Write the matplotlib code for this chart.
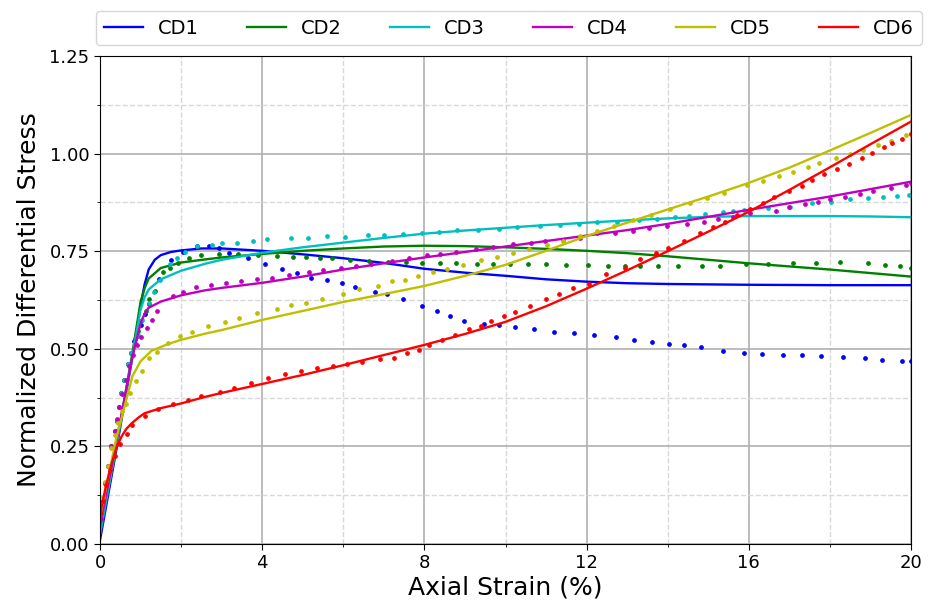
import matplotlib
matplotlib.use("Agg")
import matplotlib.pyplot as plt
from matplotlib.ticker import MultipleLocator

labels = ["CD1", "CD2", "CD3", "CD4", "CD5", "CD6"]
colors = ["b", "g", "c", "m", "y", "r"]

# ---- model curves (solid lines) ----
cd1_fx = [0, 0.4, 0.8, 1.0, 1.1, 1.2, 1.35, 1.5, 1.75, 2.0, 2.5, 3.0, 4, 5, 6, 7, 8, 9, 10, 11, 12, 13, 14, 16, 18, 20]
cd1_fy = [0.01, 0.24, 0.48, 0.61, 0.665, 0.703, 0.728, 0.740, 0.748, 0.752, 0.757, 0.757, 0.751, 0.742, 0.732, 0.72,
          0.705, 0.695, 0.687, 0.678, 0.672, 0.668, 0.666, 0.664, 0.663, 0.663]
cd2_fx = [0, 0.4, 0.8, 1.0, 1.1, 1.2, 1.5, 2.0, 2.6, 3, 4, 5, 6, 7, 8, 9, 10, 11, 12, 13, 14, 15, 16, 17, 18, 19, 20]
cd2_fy = [0.03, 0.25, 0.49, 0.62, 0.655, 0.68, 0.707, 0.721, 0.729, 0.734, 0.743, 0.751, 0.757, 0.762, 0.764, 0.763,
          0.760, 0.756, 0.751, 0.745, 0.737, 0.728, 0.719, 0.711, 0.703, 0.694, 0.685]
cd3_fx = [0, 0.4, 0.8, 1.0, 1.1, 1.2, 1.5, 2.0, 2.6, 3, 4, 5, 6, 7, 8, 9, 10, 11, 12, 13, 14, 15, 16, 17, 18, 19, 20]
cd3_fy = [0.025, 0.25, 0.48, 0.60, 0.632, 0.652, 0.678, 0.700, 0.718, 0.728, 0.746, 0.760, 0.772, 0.784, 0.795, 0.803,
          0.810, 0.817, 0.823, 0.829, 0.834, 0.838, 0.840, 0.840, 0.840, 0.839, 0.837]
cd4_fx = [0, 0.4, 0.8, 1.0, 1.1, 1.2, 1.5, 2.0, 2.6, 3, 4, 5, 6, 7, 8, 9, 10, 11, 12, 13, 14, 15, 16, 17, 18, 19, 20]
cd4_fy = [0.045, 0.26, 0.48, 0.565, 0.590, 0.605, 0.621, 0.637, 0.650, 0.656, 0.669, 0.685, 0.703, 0.719, 0.734, 0.748,
          0.762, 0.776, 0.790, 0.804, 0.820, 0.838, 0.856, 0.873, 0.890, 0.909, 0.928]
cd5_fx = [0, 0.4, 0.8, 1.0, 1.27, 1.7, 2.0, 2.6, 3, 4, 5, 6, 7, 8, 9, 10, 11, 12, 13, 14, 15, 16, 17, 18, 19, 20]
cd5_fy = [0.07, 0.27, 0.43, 0.468, 0.495, 0.513, 0.523, 0.539, 0.548, 0.574, 0.597, 0.620, 0.640, 0.661, 0.687, 0.715,
          0.751, 0.789, 0.823, 0.857, 0.890, 0.925, 0.964, 1.008, 1.053, 1.099]
cd6_fx = [0, 0.15, 0.29, 0.4, 0.53, 0.65, 0.78, 0.95, 1.1, 1.5, 2.0, 2.6, 3, 4, 5, 6, 7, 8, 9, 10, 11, 12, 13, 14, 15,
          16, 17, 18, 19, 20]
cd6_fy = [0.075, 0.15, 0.207, 0.245, 0.275, 0.295, 0.309, 0.324, 0.335, 0.348, 0.36, 0.377, 0.387, 0.410, 0.433, 0.458,
          0.484, 0.510, 0.538, 0.569, 0.609, 0.654, 0.701, 0.750, 0.800, 0.851, 0.907, 0.965, 1.024, 1.082]

# ---- experimental data (dots) ----
cd1_dx = [0.03, 0.08, 0.13, 0.2, 0.28, 0.36, 0.42, 0.47, 0.53, 0.6, 0.68, 0.76, 0.84, 0.92, 1.0, 1.1, 1.22, 1.45,
          1.76, 2.05, 2.38, 2.69, 2.93, 3.19, 3.65, 4.08, 4.48, 4.85, 5.2, 5.59, 5.98, 6.28, 6.79, 7.07, 7.46, 7.95,
          8.31, 8.64, 8.97, 9.47, 9.85, 10.24, 10.71, 11.2, 11.7, 12.19, 12.72, 13.18, 13.61, 14.04, 14.4, 14.83,
          15.37, 15.88, 16.33, 16.84, 17.3, 17.78, 18.32, 18.87, 19.29, 19.77, 19.99]
cd1_dy = [0.07, 0.11, 0.155, 0.2, 0.25, 0.29, 0.316, 0.352, 0.386, 0.42, 0.46, 0.49, 0.52, 0.533, 0.56, 0.59, 0.616,
          0.68, 0.727, 0.748, 0.764, 0.764, 0.757, 0.746, 0.732, 0.717, 0.704, 0.695, 0.681, 0.677, 0.668, 0.659,
          0.646, 0.640, 0.627, 0.610, 0.597, 0.584, 0.571, 0.564, 0.560, 0.556, 0.551, 0.543, 0.540, 0.536, 0.530,
          0.522, 0.517, 0.513, 0.509, 0.504, 0.495, 0.489, 0.487, 0.483, 0.483, 0.482, 0.479, 0.476, 0.472, 0.468,
          0.468]
cd2_dx = [0.03, 0.08, 0.13, 0.2, 0.28, 0.36, 0.42, 0.47, 0.53, 0.6, 0.68, 0.76, 0.86, 0.94, 1.02, 1.13, 1.22, 1.36,
          1.55, 1.73, 1.93, 2.19, 2.48, 2.93, 3.41, 3.9, 4.37, 4.77, 5.07, 5.43, 5.73, 6.17, 6.64, 7.1, 7.54, 7.95,
          8.38, 8.78, 9.29, 9.7, 10.1, 10.55, 11.0, 11.48, 12.03, 12.54, 12.95, 13.32, 13.77, 14.26, 14.85, 15.3,
          15.92, 16.48, 17.08, 17.66, 18.25, 18.93, 19.36, 19.73, 20.0]
cd2_dy = [0.07, 0.11, 0.155, 0.2, 0.25, 0.29, 0.316, 0.352, 0.386, 0.42, 0.46, 0.49, 0.525, 0.546, 0.570, 0.598,
          0.628, 0.649, 0.697, 0.706, 0.721, 0.733, 0.740, 0.744, 0.742, 0.740, 0.738, 0.735, 0.734, 0.733, 0.732,
          0.727, 0.725, 0.723, 0.722, 0.721, 0.720, 0.721, 0.717, 0.717, 0.717, 0.718, 0.716, 0.715, 0.715, 0.713,
          0.712, 0.713, 0.712, 0.712, 0.713, 0.713, 0.716, 0.716, 0.719, 0.721, 0.722, 0.719, 0.715, 0.713, 0.708]
cd3_dx = [0.03, 0.08, 0.13, 0.2, 0.28, 0.36, 0.42, 0.47, 0.53, 0.6, 0.68, 0.76, 0.86, 0.94, 1.04, 1.2, 1.33, 1.47,
          1.72, 1.89, 2.1, 2.38, 2.75, 3.02, 3.37, 3.78, 4.11, 4.71, 5.14, 5.61, 6.03, 6.6, 7.01, 7.46, 7.95, 8.36,
          8.81, 9.33, 9.84, 10.29, 10.85, 11.35, 11.82, 12.25, 12.74, 13.28, 13.73, 14.18, 14.53, 14.92, 15.36,
          15.62, 15.88, 16.48, 17.02, 17.55, 18.02, 18.5, 18.95, 19.3, 19.65, 19.95]
cd3_dy = [0.07, 0.11, 0.155, 0.2, 0.25, 0.29, 0.316, 0.352, 0.386, 0.42, 0.46, 0.49, 0.515, 0.535, 0.574, 0.618,
          0.646, 0.676, 0.716, 0.732, 0.749, 0.764, 0.766, 0.772, 0.772, 0.777, 0.780, 0.783, 0.783, 0.789, 0.787,
          0.791, 0.792, 0.795, 0.797, 0.798, 0.805, 0.804, 0.807, 0.811, 0.815, 0.817, 0.820, 0.824, 0.826, 0.830,
          0.832, 0.838, 0.841, 0.845, 0.850, 0.854, 0.855, 0.861, 0.864, 0.873, 0.877, 0.883, 0.885, 0.890, 0.891,
          0.893]
cd4_dx = [0.03, 0.08, 0.13, 0.2, 0.28, 0.36, 0.42, 0.48, 0.55, 0.63, 0.72, 0.82, 0.92, 1.02, 1.16, 1.28, 1.41,
          1.79, 2.05, 2.37, 2.74, 3.11, 3.47, 3.88, 4.25, 4.67, 5.16, 5.49, 5.94, 6.31, 6.68, 7.19, 7.63, 8.06, 8.38,
          8.78, 9.27, 9.7, 10.19, 10.63, 10.97, 11.41, 11.84, 12.26, 12.7, 13.15, 13.55, 13.99, 14.47, 14.9, 15.25,
          15.62, 16.03, 16.67, 17.0, 17.39, 17.7, 18.0, 18.38, 18.73, 19.07, 19.5, 19.88, 20.0]
cd4_dy = [0.065, 0.11, 0.155, 0.2, 0.25, 0.29, 0.32, 0.35, 0.385, 0.42, 0.455, 0.485, 0.509, 0.531, 0.552, 0.574,
          0.597, 0.634, 0.646, 0.658, 0.663, 0.669, 0.674, 0.680, 0.682, 0.689, 0.696, 0.702, 0.708, 0.711, 0.716,
          0.725, 0.732, 0.739, 0.744, 0.748, 0.755, 0.760, 0.768, 0.772, 0.775, 0.779, 0.785, 0.797, 0.796, 0.803,
          0.809, 0.815, 0.820, 0.825, 0.832, 0.837, 0.849, 0.854, 0.864, 0.870, 0.877, 0.883, 0.888, 0.896, 0.904,
          0.911, 0.920, 0.924]
cd5_dx = [0.03, 0.08, 0.13, 0.2, 0.28, 0.36, 0.45, 0.55, 0.64, 0.73, 0.88, 1.04, 1.21, 1.41, 1.68, 1.97, 2.28, 2.67,
          3.08, 3.44, 3.88, 4.37, 4.71, 5.08, 5.48, 5.99, 6.39, 6.85, 7.19, 7.52, 7.85, 8.2, 8.55, 8.96, 9.4, 9.78,
          10.19, 10.59, 11.02, 11.41, 11.84, 12.26, 12.68, 13.15, 13.6, 14.05, 14.55, 14.96, 15.4, 15.96, 16.34,
          16.74, 17.08, 17.47, 17.74, 18.14, 18.5, 18.82, 19.19, 19.51, 19.88, 20.0]
cd5_dy = [0.08, 0.12, 0.16, 0.2, 0.245, 0.28, 0.31, 0.34, 0.359, 0.386, 0.418, 0.443, 0.476, 0.491, 0.514, 0.533,
          0.544, 0.558, 0.569, 0.579, 0.591, 0.601, 0.611, 0.618, 0.627, 0.640, 0.652, 0.662, 0.674, 0.676, 0.687,
          0.697, 0.705, 0.715, 0.727, 0.736, 0.745, 0.755, 0.766, 0.777, 0.789, 0.801, 0.815, 0.830, 0.843, 0.857,
          0.874, 0.887, 0.898, 0.920, 0.931, 0.943, 0.954, 0.966, 0.977, 0.988, 0.999, 1.009, 1.022, 1.032, 1.048,
          1.052]
cd6_dx = [0.03, 0.08, 0.15, 0.25, 0.36, 0.5, 0.66, 0.8, 1.11, 1.44, 1.81, 2.16, 2.49, 2.96, 3.31, 3.72, 4.14, 4.55,
          4.96, 5.36, 5.75, 6.08, 6.47, 6.91, 7.25, 7.58, 7.87, 8.11, 8.43, 8.75, 9.11, 9.4, 9.65, 9.97, 10.23, 10.6,
          11.0, 11.32, 11.67, 12.07, 12.47, 12.95, 13.32, 13.71, 14.0, 14.41, 14.8, 15.12, 15.41, 15.7, 16.03, 16.34,
          16.63, 17.0, 17.32, 17.56, 17.86, 18.18, 18.48, 18.8, 19.05, 19.33, 19.54, 19.77, 20.0]
cd6_dy = [0.08, 0.11, 0.15, 0.19, 0.225, 0.255, 0.283, 0.305, 0.328, 0.346, 0.359, 0.368, 0.378, 0.390, 0.400, 0.412,
          0.425, 0.436, 0.443, 0.452, 0.456, 0.462, 0.467, 0.474, 0.476, 0.488, 0.497, 0.510, 0.523, 0.535, 0.550,
          0.559, 0.570, 0.584, 0.595, 0.609, 0.627, 0.641, 0.655, 0.666, 0.692, 0.708, 0.729, 0.745, 0.758, 0.777,
          0.796, 0.811, 0.826, 0.843, 0.858, 0.874, 0.890, 0.905, 0.918, 0.932, 0.948, 0.960, 0.973, 0.990, 1.002,
          1.016, 1.026, 1.038, 1.049]

fits = [(cd1_fx, cd1_fy), (cd2_fx, cd2_fy), (cd3_fx, cd3_fy), (cd4_fx, cd4_fy), (cd5_fx, cd5_fy), (cd6_fx, cd6_fy)]
data = [(cd1_dx, cd1_dy), (cd2_dx, cd2_dy), (cd3_dx, cd3_dy), (cd4_dx, cd4_dy), (cd5_dx, cd5_dy), (cd6_dx, cd6_dy)]

fig = plt.figure(figsize=(9.3, 6.08), dpi=100)
ax = fig.add_axes([100 / 930, 1 - 544 / 608, 811 / 930, 488 / 608])

ax.set_axisbelow(True)
ax.grid(which="major", color="#b0b0b0", linestyle="-", linewidth=1.2)
ax.grid(which="minor", color="#d8d8d8", linestyle="--", linewidth=1.0)

handles = []
for (fx, fy), (dx, dy), c, lab in zip(fits, data, colors, labels):
    h, = ax.plot(fx, fy, color=c, linewidth=1.7, label=lab)
    ax.plot(dx, dy, linestyle="none", marker="o", markersize=2.4, color=c)
    handles.append(h)

ax.set_xlim(0, 20)
ax.set_ylim(0, 1.25)
ax.xaxis.set_major_locator(MultipleLocator(4))
ax.xaxis.set_minor_locator(MultipleLocator(2))
ax.yaxis.set_major_locator(MultipleLocator(0.25))
ax.yaxis.set_minor_locator(MultipleLocator(0.125))
ax.yaxis.set_major_formatter(matplotlib.ticker.FormatStrFormatter("%.2f"))
ax.tick_params(axis="both", which="major", labelsize=13, length=4)
ax.tick_params(axis="both", which="minor", length=2)

ax.set_xlabel("Axial Strain (%)", fontsize=18, labelpad=2)
ax.set_ylabel("Normalized Differential Stress", fontsize=18, labelpad=6)

fig.legend(handles=handles, labels=labels, loc="center", ncol=6, mode="expand",
           bbox_to_anchor=(96 / 930, 1 - 45 / 608, 826 / 930, 34 / 608),
           fontsize=14, frameon=True, handlelength=2.0, borderaxespad=0.0)

fig.savefig("out.png", dpi=100)
